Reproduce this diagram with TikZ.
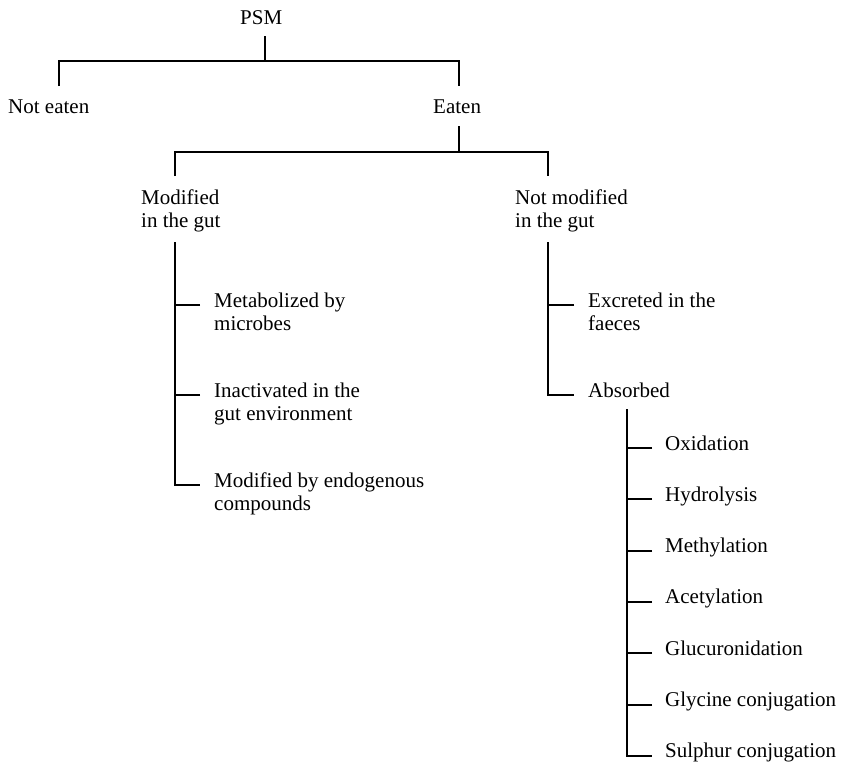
\documentclass[tikz,border=0pt]{standalone}
\usepackage{fontspec}
\setmainfont{Liberation Serif}
\usetikzlibrary{calc}

\tikzset{
  lbl/.style={font=\fontsize{21pt}{23pt}\selectfont, inner sep=0pt, align=left, anchor=base west},
  tree/.style={line width=2.2pt, draw=black},
}

\begin{document}
\begin{tikzpicture}[x=1pt, y=-1pt]
  \useasboundingbox (0,0) rectangle (844,763);
  % top levels
  \node[lbl] (psm) at (240,24) {PSM};
  \node[lbl] (noteaten) at (8,113) {Not eaten};
  \node[lbl] (eaten) at (433,113) {Eaten};
  \node[lbl] (modgut) at (141,227) {Modified\\in the gut};
  \node[lbl] (notmodgut) at (515,227) {Not modified\\in the gut};
  % modified in the gut
  \node[lbl] (microbes) at (214,330) {Metabolized by\\microbes};
  \node[lbl] (inactiv) at (214,420) {Inactivated in the\\gut environment};
  \node[lbl] (endog) at (214,510) {Modified by endogenous\\compounds};
  % not modified in the gut
  \node[lbl] (excreted) at (588,330) {Excreted in the\\faeces};
  \node[lbl] (absorbed) at (588,397) {Absorbed};
  \foreach \nm/\txt [count=\k from 0] in {oxid/Oxidation, hydro/Hydrolysis,
      methyl/Methylation, acetyl/Acetylation, glucur/Glucuronidation,
      glycine/Glycine conjugation, sulphur/Sulphur conjugation}
    \node[lbl] (\nm) at (665,{450+51.33*\k}) {\txt};

  % forks
  \draw[tree] ($(psm.base west)+(25,12)$) -- ++(0,25) coordinate (psm-fork);
  \draw[tree] ($(noteaten.base west)+(51,-27)$) |- (psm-fork) -| ($(eaten.base west)+(26,-27)$);
  \draw[tree] ($(eaten.base west)+(26,13)$) -- ++(0,26) coordinate (eaten-fork);
  \draw[tree] ($(modgut.base west)+(34,-51)$) |- (eaten-fork) -| ($(notmodgut.base west)+(33,-51)$);

  % lists
  \draw[tree] ($(modgut.base west)+(34,15)$) |- ($(endog.base west)+(-14,-25)$);
  \foreach \nm in {microbes,inactiv}
    \draw[tree] ($(\nm.base west)+(-14,-25)$) -- ++(-25,0);
  \draw[tree] ($(notmodgut.base west)+(33,15)$) |- ($(absorbed.base west)+(-14,-2)$);
  \draw[tree] ($(excreted.base west)+(-14,-25)$) -- ++(-26,0);
  \draw[tree] ($(absorbed.base west)+(39,12)$) |- ($(sulphur.base west)+(-13,-2)$);
  \foreach \nm in {oxid,hydro,methyl,acetyl,glucur,glycine}
    \draw[tree] ($(\nm.base west)+(-13,-2)$) -- ++(-25,0);
\end{tikzpicture}
\end{document}
